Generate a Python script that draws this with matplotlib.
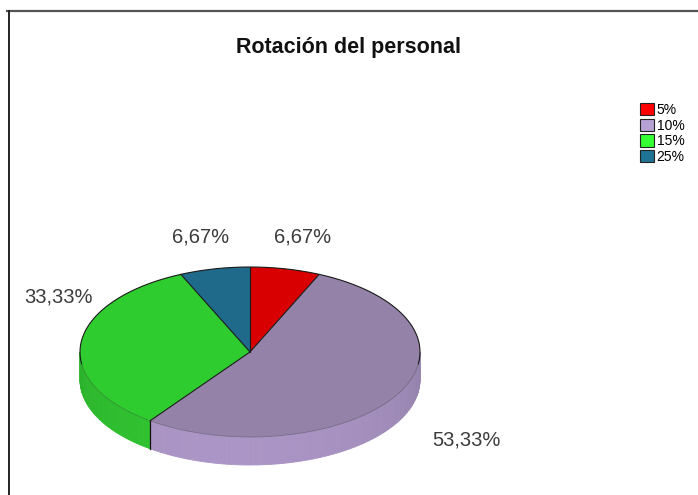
import numpy as np
import matplotlib.pyplot as plt
from matplotlib.patches import Polygon, Patch
from matplotlib.colors import to_rgb

plt.rcParams['font.family'] = ['Liberation Sans', 'DejaVu Sans']

categories = ["5%", "10%", "15%", "25%"]
shares = [6.67, 53.33, 33.33, 6.67]
top_colors = ["#d80000", "#9482a8", "#2ecc2e", "#1f6a8a"]
side_colors = ["#c00000", "#ab95c6", "#30c430", "#1b5e7a"]
legend_colors = ["#ff0000", "#b7a3d3", "#33ff33", "#1f7394"]
label_xy = [(303, 237), (466, 440), (58, 297), (201, 237)]

W, H = 698, 495
fig = plt.figure(figsize=(W / 100, H / 100), dpi=100)
ax = fig.add_axes([0, 0, 1, 1])
ax.set_xlim(0, W)
ax.set_ylim(H, 0)
ax.axis('off')

# pie geometry: ellipse centre, radii and thickness of the disc
cx, cy, rx, ry, depth = 250, 352, 170, 85, 28


def rim(t, drop=0.0):
    # t in degrees, clockwise from 12 o'clock
    r = np.radians(t)
    return cx + rx * np.sin(r), cy - ry * np.cos(r) + drop


bounds = np.concatenate([[0], np.cumsum(shares) / np.sum(shares) * 360])

# visible side wall (front half, 90..270 deg), drawn in thin strips for shading
for i in range(len(shares)):
    a, b = max(bounds[i], 90), min(bounds[i + 1], 270)
    if a >= b:
        continue
    edges = np.linspace(a, b, int((b - a) / 1.5) + 2)
    base = np.array(to_rgb(side_colors[i]))
    for t0, t1 in zip(edges[:-1], edges[1:]):
        tm = 0.5 * (t0 + t1)
        shade = 0.88 + 0.12 * np.cos(np.radians(tm - 190))
        col = np.clip(base * shade, 0, 1)
        ts = np.array([t0, t1])
        x0, y0 = rim(ts)
        x1, y1 = rim(ts[::-1], depth)
        ax.add_patch(Polygon(np.column_stack([np.r_[x0, x1], np.r_[y0, y1]]),
                             closed=True, facecolor=col, edgecolor=col, lw=0.6))

# vertical edge where a slice boundary sits on the front wall
for t in bounds[1:-1]:
    if 90 < t < 270:
        x, y = rim(t)
        ax.plot([x, x], [y, y + depth], color='#111111', lw=0.9)

# top faces
for i in range(len(shares)):
    ts = np.linspace(bounds[i], bounds[i + 1], 120)
    x, y = rim(ts)
    pts = np.column_stack([np.r_[cx, x], np.r_[cy, y]])
    ax.add_patch(Polygon(pts, closed=True, facecolor=top_colors[i],
                         edgecolor='none'))

# outlines: slice borders and back rim, soft front rim
for t in bounds[:-1]:
    x, y = rim(t)
    ax.plot([cx, x], [cy, y], color='#1a1a1a', lw=0.8, solid_capstyle='round')
x, y = rim(np.linspace(262, 458, 200))
ax.plot(x, y, color='#1a1a1a', lw=0.8)
x, y = rim(np.linspace(98, 262, 200))
ax.plot(x, y, color='#333333', lw=0.6, alpha=0.35)

# data labels
for v, (x, y) in zip(shares, label_xy):
    ax.text(x, y, f"{v:.2f}%".replace('.', ','), ha='center', va='center',
            fontsize=14.5, color='#3c3c3c')

ax.text(348, 47, "Rotación del personal", ha='center', va='center',
        fontsize=15.5, fontweight='bold', color='#111111')

handles = [Patch(facecolor=c, edgecolor='#222222', lw=0.8) for c in legend_colors]
ax.legend(handles, categories, loc='upper left',
          bbox_to_anchor=(640 / W, 1 - 103 / H), frameon=False, fontsize=10,
          handlelength=1.0, handleheight=1.0, handletextpad=0.2,
          labelspacing=0.12, borderpad=0, borderaxespad=0)

# chart area frame
ax.plot([7, W], [11, 11], color='#555555', lw=1.6)
ax.plot([9, 9], [11, H], color='#222222', lw=1.4)

fig.savefig('out.png', dpi=100)
